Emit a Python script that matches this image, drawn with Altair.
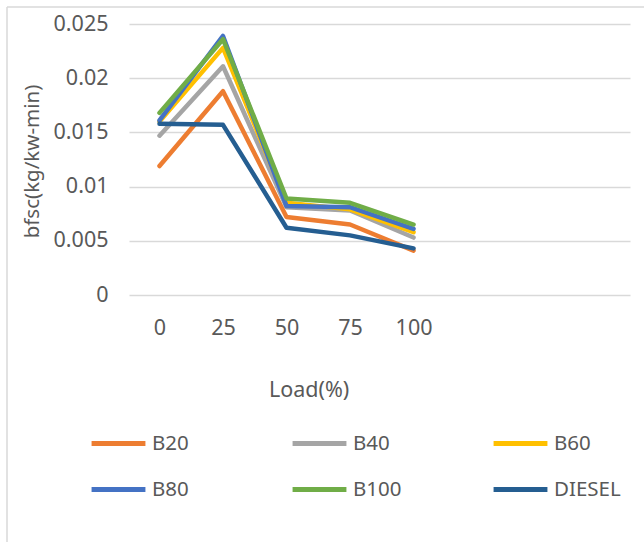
import altair as alt
import pandas as pd

loads = [0, 25, 50, 75, 100]
series_names = ["B20", "B40", "B60", "B80", "B100", "DIESEL"]
b20 = [0.0119, 0.0188, 0.0072, 0.0065, 0.0041]
b40 = [0.0147, 0.0211, 0.0081, 0.0078, 0.0053]
b60 = [0.0160, 0.0228, 0.0085, 0.0079, 0.0058]
b80 = [0.0161, 0.0239, 0.0082, 0.0081, 0.0061]
b100 = [0.0168, 0.0236, 0.0089, 0.0085, 0.0065]
diesel = [0.0158, 0.0157, 0.0062, 0.0055, 0.0043]
colors = ["#ED7D31", "#A5A5A5", "#FFC000", "#4472C4", "#70AD47", "#255E91"]
y_ticks = [0, 0.005, 0.01, 0.015, 0.02, 0.025]

series_values = [b20, b40, b60, b80, b100, diesel]
rows = []
for name, vals in zip(series_names, series_values):
    for ld, v in zip(loads, vals):
        rows.append({"series": name, "load": ld, "bfsc": v})
df = pd.DataFrame(rows)

FONT = "Noto Sans"
TXT = "#595959"
GRID = "#D9D9D9"

lines = alt.Chart(df).mark_line(
    strokeWidth=4.5, strokeCap="round", strokeJoin="round"
).encode(
    x=alt.X(
        "load:Q",
        scale=alt.Scale(domain=[-12, 185.2], nice=False, zero=False),
        axis=alt.Axis(
            values=loads, title="Load(%)", grid=False, domain=False, ticks=False,
            labelFont=FONT, labelFontSize=21.5, labelColor=TXT,
            labelBaseline="top", labelPadding=22,
            titleFont=FONT, titleFontSize=21.5, titleColor=TXT, titleFontWeight="normal",
            titleX=179.6, titleY=95, titleAlign="center", titleBaseline="middle",
        ),
    ),
    y=alt.Y(
        "bfsc:Q",
        scale=alt.Scale(domain=[0, 0.025], nice=False),
        axis=alt.Axis(
            values=y_ticks, format="~g", title="bfsc(kg/kw-min)",
            grid=True, gridColor=GRID, gridWidth=1.3,
            domain=False, ticks=False,
            labelFont=FONT, labelFontSize=21.5, labelColor=TXT, labelPadding=21,
            titleFont=FONT, titleFontSize=20.5, titleColor=TXT, titleFontWeight="normal",
            titleAngle=270, titleX=-91, titleY=137, titleAlign="center",
            titleBaseline="alphabetic",
        ),
    ),
    color=alt.Color(
        "series:N",
        scale=alt.Scale(domain=series_names, range=colors),
        legend=alt.Legend(
            title=None, orient="none", legendX=-40, legendY=390,
            direction="horizontal", columns=3, gridAlign="all",
            symbolType="stroke", symbolSize=2900, symbolStrokeWidth=5,
            labelFont=FONT, labelFontSize=20.5, labelColor=TXT, labelOffset=4,
            columnPadding=63, rowPadding=6, padding=0,
        ),
    ),
)

border_src = alt.Chart(pd.DataFrame({"k": [0]}))
left_border = border_src.mark_rule(color=GRID, strokeWidth=1.5).encode(
    x=alt.value(-122), y=alt.value(-17), y2=alt.value(530)
)
top_border = border_src.mark_rule(color=GRID, strokeWidth=1.5).encode(
    x=alt.value(-122), x2=alt.value(520), y=alt.value(-17)
)

chart = alt.layer(left_border, top_border, lines).properties(
    width=501, height=271,
    autosize=alt.AutoSizeParams(type="none"),
    padding={"left": 129, "top": 24, "right": 14, "bottom": 247},
    background="white",
).configure_view(stroke=None)

chart.save("out.html", embed_options={"renderer": "svg", "actions": False})
